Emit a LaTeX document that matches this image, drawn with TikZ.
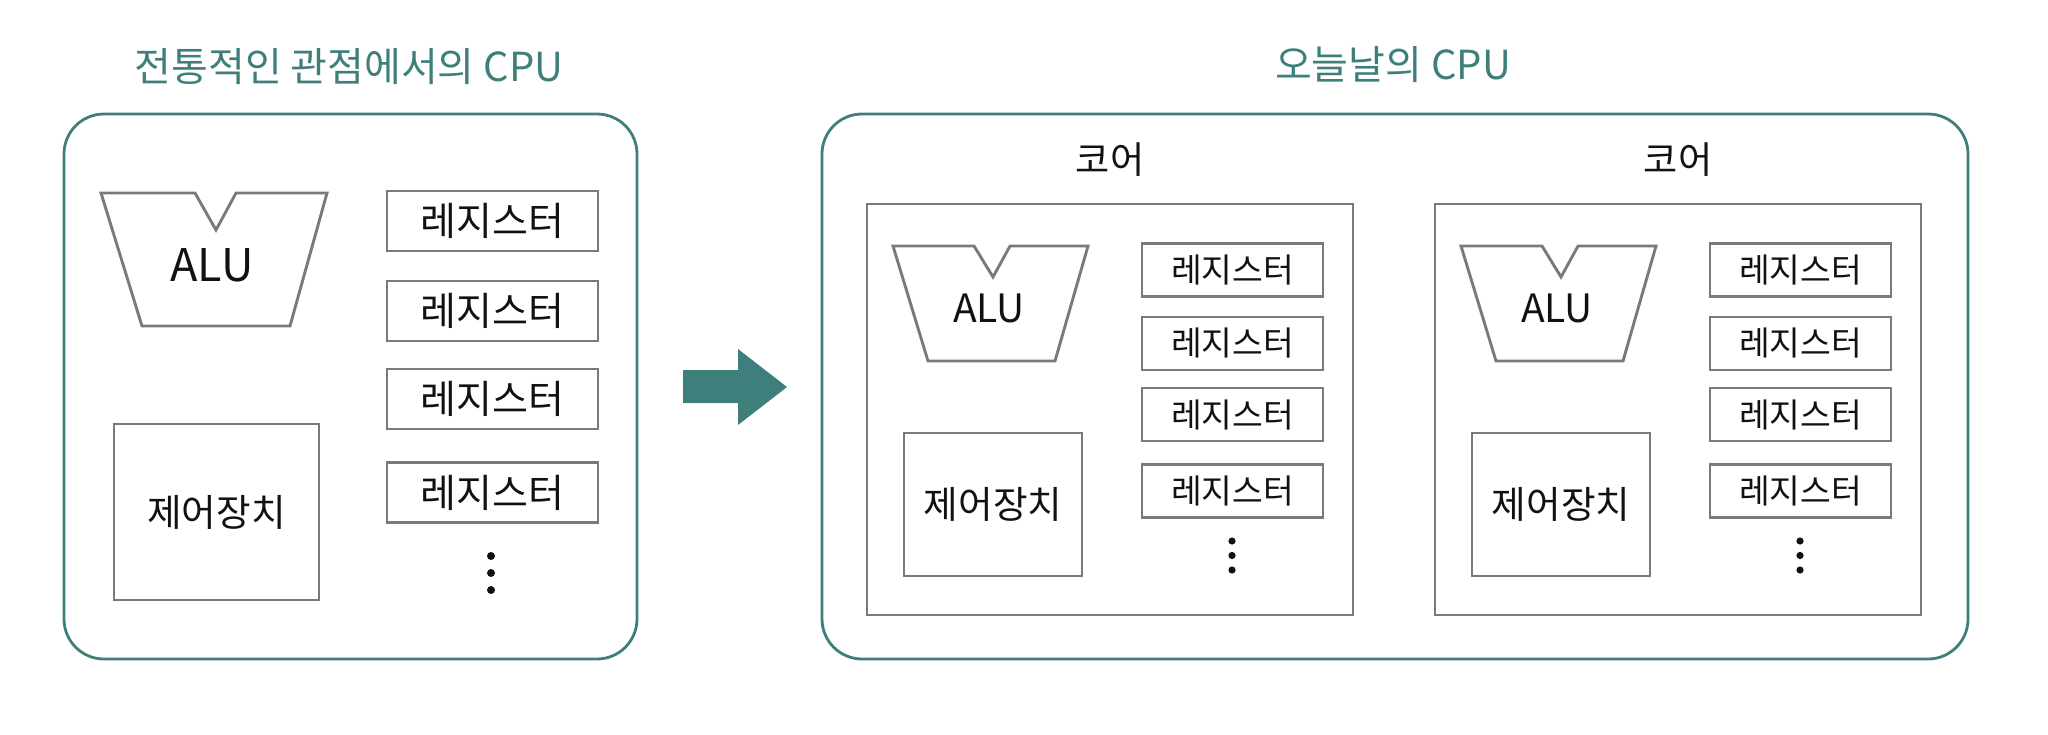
\documentclass[tikz,border=0pt]{standalone}
\usepackage{fontspec}
\setmainfont{Noto Sans CJK KR}
\definecolor{tealc}{HTML}{3E7F7B}
\definecolor{boxgray}{HTML}{7A7A7A}
\definecolor{inkc}{HTML}{111111}
\tikzset{
  outerbox/.style={draw=tealc, line width=1.4pt, rounded corners=20pt, inner sep=0pt, minimum height=272.5pt},
  grayline/.style={draw=boxgray, line width=1.45pt},
  regbox/.style={grayline, inner sep=0pt, minimum width=105.5pt, minimum height=30pt, text=inkc, font=\fontsize{19.5}{19.5}\selectfont},
  cregbox/.style={grayline, inner sep=0pt, minimum width=90.5pt, minimum height=26.5pt, text=inkc, font=\fontsize{16.7}{16.7}\selectfont},
  ctrlbox/.style={grayline, inner sep=0pt, text=inkc, font=\fontsize{18.8}{18.8}\selectfont},
  corebox/.style={grayline, inner sep=0pt, minimum width=243pt, minimum height=205.5pt},
  titletext/.style={text=tealc, font=\fontsize{20}{20}\selectfont, inner sep=0pt},
  coretitle/.style={text=inkc, font=\fontsize{18.6}{18.6}\selectfont, inner sep=0pt},
  alushape/.style={grayline, line join=miter},
  alutext/.style={text=inkc, inner sep=0pt},
  dotmark/.style={circle, fill=inkc, inner sep=0pt, minimum size=4pt},
  bigarrow/.style={fill=tealc, draw=none}
}
\begin{document}
\begin{tikzpicture}[x=0.5pt,y=-0.5pt]
\useasboundingbox (0,0) rectangle (2048,734);

% ---------- left: traditional CPU ----------
\node[titletext] (tleft) at (349,67) {전통적인 관점에서의 CPU};
\node[outerbox, minimum width=286.5pt] (leftcpu) at (350.5,386.5) {};

\draw[alushape] (101,193) -- (195,193) -- (216,230) -- (236,193) -- (327,193) -- (290,326) -- (142,326) -- cycle;
\node[alutext, font=\fontsize{22.5}{22.5}\selectfont] (alu0) at (212,265) {ALU};

\node[regbox] (r01) at (492.5,221) {레지스터};
\node[regbox] (r02) at (492.5,311) {레지스터};
\node[regbox] (r03) at (492.5,399) {레지스터};
\node[regbox] (r04) at (492.5,492.5) {레지스터};
\node[dotmark] (d01) at (491,556) {};
\node[dotmark] (d02) at (491,573) {};
\node[dotmark] (d03) at (491,590) {};

\node[ctrlbox, minimum width=102.5pt, minimum height=88pt] (ctrl0) at (216.5,512) {제어장치};

% ---------- arrow ----------
\fill[bigarrow] (683,370) -- (738,370) -- (738,349) -- (787,387) -- (738,425) -- (738,403) -- (683,403) -- cycle;

% ---------- right: today's CPU ----------
\node[titletext] (tright) at (1393,65) {오늘날의 CPU};
\node[outerbox, minimum width=573pt] (rightcpu) at (1395,386.5) {};

\foreach \i/\dx in {1/0,2/568}{
  \node[coretitle] (core\i-label) at (\dx+1110,160) {코어};
  \node[corebox] (core\i) at (\dx+1110,409.5) {};
  \draw[alushape] (\dx+893,246) -- (\dx+974,246) -- (\dx+993,277) -- (\dx+1010,246) -- (\dx+1088,246) -- (\dx+1055,361) -- (\dx+928,361) -- cycle;
  \node[alutext, font=\fontsize{19.5}{19.5}\selectfont] (core\i-alu) at (\dx+989,308) {ALU};
  \node[cregbox] (core\i-r1) at (\dx+1232.5,270) {레지스터};
  \node[cregbox] (core\i-r2) at (\dx+1232.5,343.5) {레지스터};
  \node[cregbox] (core\i-r3) at (\dx+1232.5,414.5) {레지스터};
  \node[cregbox] (core\i-r4) at (\dx+1232.5,491) {레지스터};
  \node[dotmark, minimum size=3.6pt] (core\i-d1) at (\dx+1232,541) {};
  \node[dotmark, minimum size=3.6pt] (core\i-d2) at (\dx+1232,555.5) {};
  \node[dotmark, minimum size=3.6pt] (core\i-d3) at (\dx+1232,570) {};
  \node[ctrlbox, minimum width=89pt, minimum height=71.5pt] (core\i-ctrl) at (\dx+993,504.5) {제어장치};
}
\end{tikzpicture}
\end{document}
